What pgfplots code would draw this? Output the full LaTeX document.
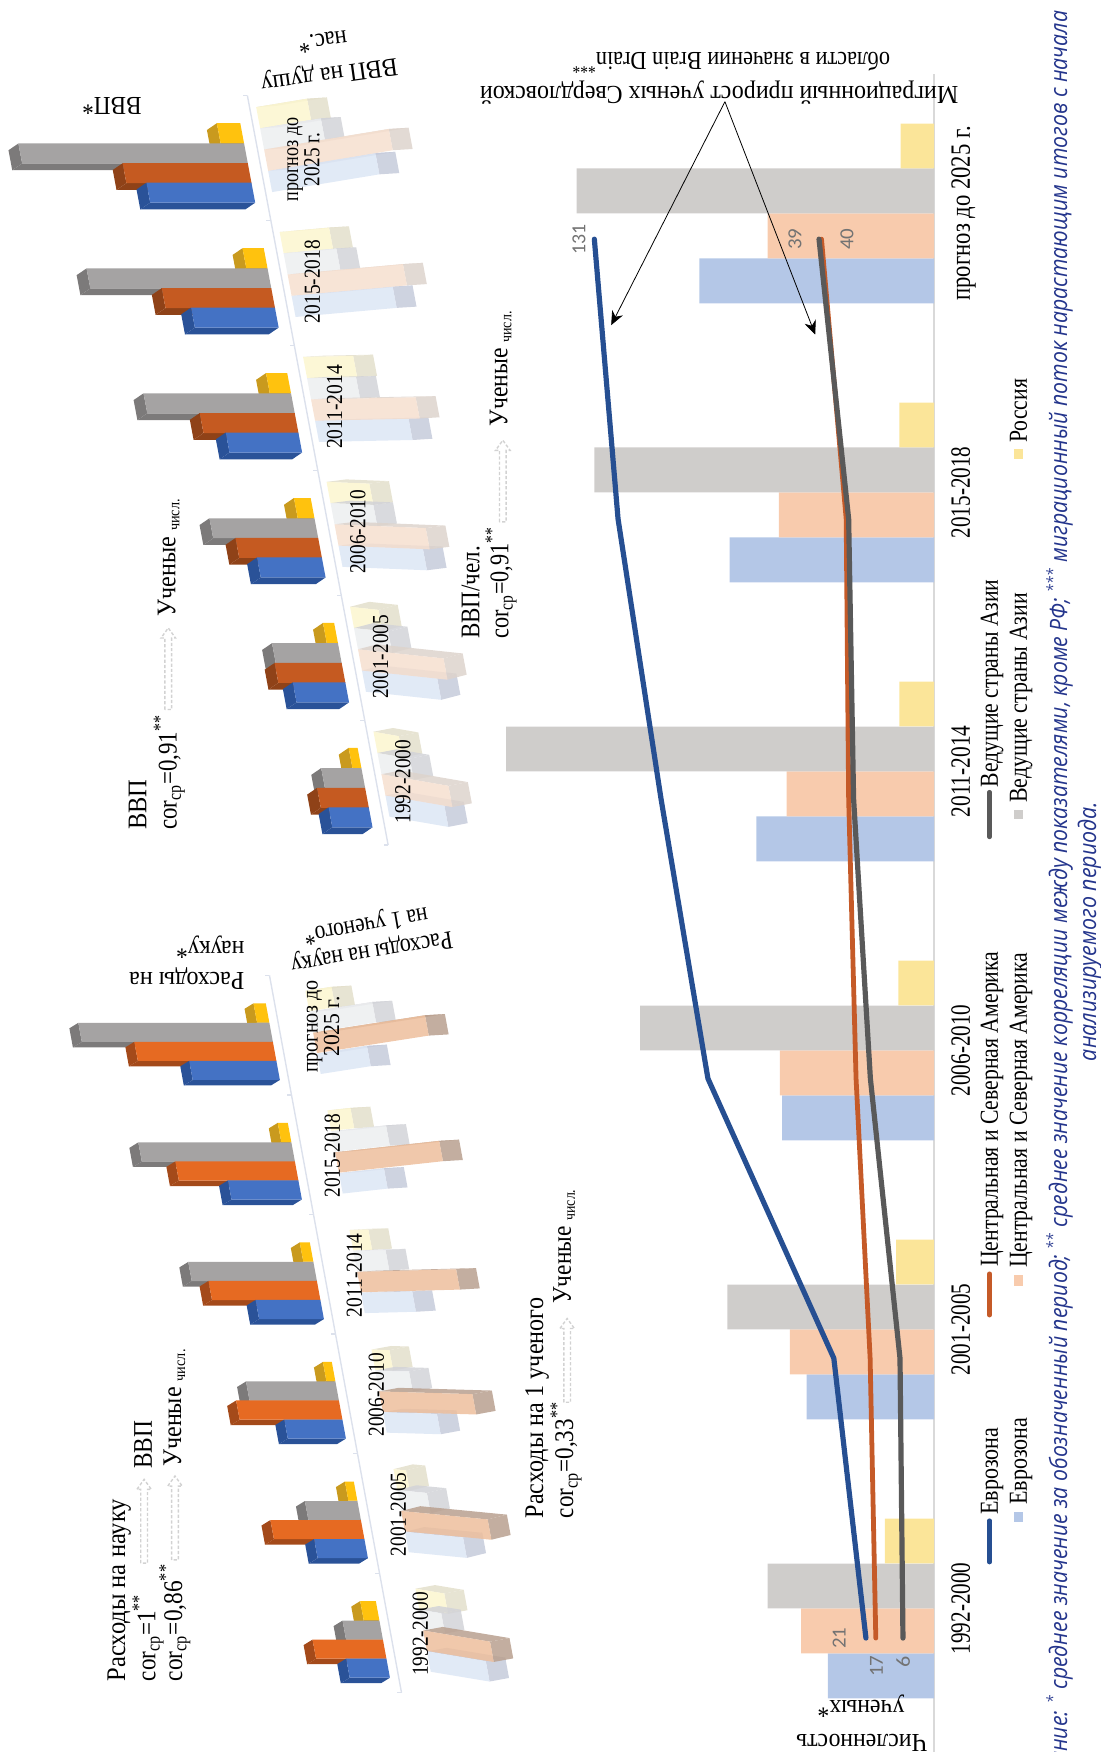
\documentclass[border=0pt]{standalone}
\usepackage{graphicx}
\usepackage{fontspec}
\setmainfont{Liberation Serif}
\newfontfamily\notefont{Open Sans}
\newfontfamily\datafont{Carlito}
\usepackage{pgfplots}
\pgfplotsset{compat=1.18}
\usetikzlibrary{arrows.meta}

% set text to a given run length, keeping its height
\newsavebox\fitbox
\newlength\fitlen
\newcommand\fitw[2]{\sbox\fitbox{#2}\setlength\fitlen{\wd\fitbox}%
  \pgfmathsetmacro\fitr{#1*0.56/\fitlen}\scalebox{\fitr}[1]{\usebox\fitbox}}

% text running upward: x, y, length, text
\newcommand\rt[5][13.5]{\node[rotate=90,anchor=base west,inner sep=0pt,
  font=\fontsize{#1}{#1}\selectfont] at (#2,#3) {\fitw{#4}{#5}};}
% text turned over: angle, x, y, length, text
\newcommand\ut[6][13.5]{\node[rotate=#2,anchor=base west,inner sep=0pt,
  font=\fontsize{#1}{#1}\selectfont] at (#3,#4) {\fitw{#5}{#6}};}

% dashed outline arrow pointing up between two indicators
\newcommand\hollowarrow[3]{\draw[gray!35,line width=0.7pt,dash pattern=on 1.6pt off 1pt]
  (#1-3,#2) -- (#1-3,#3+9) -- (#1-6.5,#3+9) -- (#1,#3) -- (#1+6.5,#3+9)
  -- (#1+3,#3+9) -- (#1+3,#2) -- cycle;}

% one block: centre on the category axis, length, tilt, front colour, side colour
\newcommand\boxbar[5]{%
  \pgfmathsetmacro\cl{#1-\hh}\pgfmathsetmacro\ch{#1+\hh}%
  \pgfmathsetmacro\el{\cl+(#3)*(#2)}\pgfmathsetmacro\eh{\ch+(#3)*(#2)}%
  \pgfmathsetmacro\vv{#2+\dV}%
  \pgfmathsetmacro\fl{\el+\dC}\pgfmathsetmacro\fh{\eh+\dC}%
  \pgfmathsetmacro\gl{\cl+\dC}\pgfmathsetmacro\gh{\ch+\dC}%
  \pgfmathparse{\dC<0?1:0}\ifnum\pgfmathresult=1
    \edef\temp{\noexpand\addplot[fill=#5,draw=none,fill opacity=\bo] coordinates
      {(\cl,0) (\el,#2) (\fl,\vv) (\gl,\dV)} -- cycle;}\temp
  \else
    \edef\temp{\noexpand\addplot[fill=#5,draw=none,fill opacity=\bo] coordinates
      {(\ch,0) (\eh,#2) (\fh,\vv) (\gh,\dV)} -- cycle;}\temp
  \fi
  \edef\temp{\noexpand\addplot[fill=#5,draw=none,fill opacity=\bo] coordinates
    {(\el,#2) (\fl,\vv) (\fh,\vv) (\eh,#2)} -- cycle;}\temp
  \edef\temp{\noexpand\addplot[fill=#4,draw=none,fill opacity=\bo] coordinates
    {(\cl,0) (\el,#2) (\eh,#2) (\ch,0)} -- cycle;}\temp
}
% a period of the left-hand blocks: index, blue, orange, grey, yellow
\newcommand\rowL[5]{%
  \boxbar{#1+\sY}{#5}{0}{cY}{dY}\boxbar{#1+\sG}{#4}{0}{cG}{dG}%
  \boxbar{#1+\sO}{#3}{0}{cO}{dO}\boxbar{#1+\sB}{#2}{0}{cB}{dB}}
% a period of the pale right-hand blocks: index, blue, peach, grey, yellow, tilt, depth
\newcommand\rowR[7]{\def\dC{#7}%
  \boxbar{#1+\sY}{#5}{#6}{pY}{qY}\boxbar{#1+\sG}{#4}{#6}{pG}{qG}%
  \boxbar{#1+\sB}{#2}{#6}{pB}{qB}\boxbar{#1+\sO}{#3}{#6}{pO}{qO}}

\newcommand\baseline[2]{% slanted category axis with its ticks
  \addplot[draw=axisblue,line width=0.7pt] coordinates {(-0.5,#1) (5.5,#1)};
  \addplot[draw=axisblue,line width=0.6pt] coordinates {(0.5,#1) (0.5,#2)};
  \addplot[draw=axisblue,line width=0.6pt] coordinates {(1.5,#1) (1.5,#2)};
  \addplot[draw=axisblue,line width=0.6pt] coordinates {(2.5,#1) (2.5,#2)};
  \addplot[draw=axisblue,line width=0.6pt] coordinates {(3.5,#1) (3.5,#2)};
  \addplot[draw=axisblue,line width=0.6pt] coordinates {(4.5,#1) (4.5,#2)};
  \addplot[draw=axisblue,line width=0.6pt] coordinates {(-0.5,#1) (-0.5,#2)};
  \addplot[draw=axisblue,line width=0.6pt] coordinates {(5.5,#1) (5.5,#2)};
}
% period caption inside a block panel: category position, value position, text
\newcommand\per[3]{\node[rotate=90,inner sep=0pt,font=\fontsize{11.5}{11.5}\selectfont]
  at (axis cs:#1,#2) {\fitw{75}{#3}};}
\newcommand\perf[4]{\node[rotate=90,inner sep=0pt,align=center,font=\fontsize{11.5}{10.7}\selectfont]
  at (axis cs:#1,#2) {\fitw{#3}{прогноз до}\\\fitw{#4}{2025 г.}};}

\definecolor{axisblue}{HTML}{DCE1EC}
\definecolor{cB}{HTML}{4472C4}\definecolor{dB}{HTML}{2A5298}
\definecolor{cG}{HTML}{A5A3A3}\definecolor{dG}{HTML}{7C7A7A}
\definecolor{cY}{HTML}{FFC20E}\definecolor{dY}{HTML}{C99A1E}
\definecolor{pB}{HTML}{DCE6F5}\definecolor{qB}{HTML}{C6CBDB}
\definecolor{pG}{HTML}{ECEEF0}\definecolor{qG}{HTML}{D2D3D8}
\definecolor{pY}{HTML}{FCF6CF}\definecolor{qY}{HTML}{E3DFCB}
\definecolor{barB}{HTML}{B4C7E7}\definecolor{barO}{HTML}{F8CBAD}
\definecolor{barG}{HTML}{CFCDCB}\definecolor{barY}{HTML}{FBE599}
\definecolor{lineB}{HTML}{264F92}\definecolor{lineO}{HTML}{C55A28}
\definecolor{lineG}{HTML}{595959}\definecolor{note}{HTML}{24358C}

\pgfplotsset{panel/.style={hide axis,clip=false,xmin=-1,xmax=6.5,ymin=-25,ymax=260,anchor=origin}}

\begin{document}
\begin{tikzpicture}[x=0.56pt,y=-0.56pt]
\path[use as bounding box] (0,0) rectangle (985,1568);
\clip (0,0) rectangle (985,1568);

% ---------- bars of the lower chart ----------
\begin{axis}[at={(468.16pt,-806.12pt)},anchor=origin,scale only axis,
  width=224pt,height=846pt,x dir=reverse,xmin=0,xmax=400,ymin=-0.55,ymax=5.5,
  xbar,bar width=22.5pt,axis x line=none,axis y line=right,
  axis line style={draw=black!15,line width=1.1pt,-},
  major tick length=0pt,ytick={0,1,2,3,4,5},
  yticklabels={\fitw{82}{1992-2000},\fitw{82}{2001-2005},\fitw{82}{2006-2010},
    \fitw{82}{2011-2014},\fitw{82}{2015-2018},\fitw{156}{прогноз до 2025 г.}},
  yticklabel style={rotate=90,anchor=north,inner sep=0pt,yshift=-8.4pt,font=\fontsize{14}{14}\selectfont}]
\addplot[fill=barB,draw=none,bar shift=-33.8pt] coordinates {(95,0) (114,1) (136,2) (159,3) (183,4) (210,5)};
\addplot[fill=barO,draw=none,bar shift=-11.26pt] coordinates {(119,0) (129,1) (138,2) (132,3) (139,4) (149,5)};
\addplot[fill=barG,draw=none,bar shift=11.26pt] coordinates {(149,0) (185,1) (263,2) (383,3) (304,4) (320,5)};
\addplot[fill=barY,draw=none,bar shift=33.8pt] coordinates {(44,0) (34,1) (32,2) (31,3) (31,4) (30,5)};
\end{axis}

% ---------- lines of the lower chart, on their own scale ----------
\begin{axis}[at={(459.98pt,-820.96pt)},anchor=origin,scale only axis,hide axis,clip=false,
  width=191.8pt,height=785.25pt,x dir=reverse,xmin=-5,xmax=150,ymin=-0.3,ymax=5.3]
\addplot[lineO,line width=2.4pt,line cap=round] coordinates {(17,0) (19.3,1) (25,2) (28,3) (29,4) (39,5)};
\addplot[lineG,line width=2.6pt,line cap=round] coordinates {(6,0) (7.2,1) (19.2,2) (26,3) (28,4) (40,5)};
\addplot[lineB,line width=2.6pt,line cap=round] coordinates {(21,0) (34,1) (85,2) (104,3) (121.4,4) (131,5)};
\begin{scope}[every node/.style={rotate=90,inner sep=0pt,text=black!55,font=\datafont\fontsize{10}{10}\selectfont}]
\node at (axis cs:31.9,0) {\fitw{19}{21}};
\node at (axis cs:16.7,-0.1) {\fitw{19}{17}};
\node at (axis cs:5.9,-0.085) {\fitw{10}{6}};
\node at (axis cs:137.2,5) {\fitw{27}{131}};
\node at (axis cs:49.7,5) {\fitw{19}{39}};
\node at (axis cs:28.7,5) {\fitw{19}{40}};
\end{scope}
\end{axis}

% ---------- block panel: research spending ----------
\begin{axis}[panel,at={(191.3pt,-818.38pt)},x={(-11.03pt,59.92pt)},y={(-0.56pt,0pt)}]
\def\hh{0.08}\def\dC{-0.046}\def\dV{8.9}\def\bo{1}
\def\sB{-0.295}\def\sO{-0.136}\def\sG{0.023}\def\sY{0.186}
\definecolor{cO}{HTML}{E66A22}\definecolor{dO}{HTML}{A44A1A}
\baseline{-7.9}{-4}
\rowL{0}{36}{63}{33}{14}
\rowL{1}{45}{81}{47}{8}
\rowL{2}{52}{92}{80}{8}
\rowL{3}{58}{97}{112}{9}
\rowL{4}{63}{107}{137}{9}
\rowL{5}{78}{124}{171}{11}
\end{axis}

% ---------- block panel: spending per researcher ----------
\begin{axis}[panel,at={(212.07pt,-817.04pt)},x={(-11.03pt,59.92pt)},y={(0.56pt,0pt)}]
\def\hh{0.085}\def\dV{18}\def\bo{0.85}\def\dC{0}
\def\sB{-0.2625}\def\sO{-0.0875}\def\sG{0.0875}\def\sY{0.2625}
\definecolor{pO}{HTML}{EDBE9C}\definecolor{qO}{HTML}{B9A08F}
\rowR{0}{51}{58}{19}{25}{-0.0016}{0.03}
\rowR{1}{51}{76}{26}{11}{-0.00093}{0.04}
\rowR{2}{48}{83}{30}{16}{-0.00028}{0.03}
\rowR{3}{46}{89}{29}{17}{0.00024}{0.01}
\rowR{4}{41}{95}{50}{21}{0.001}{0.01}
\rowR{5}{46}{103}{58}{24}{0.00142}{0.01}
\per{-0.03}{-3}{1992-2000}\per{0.97}{-3}{2001-2005}\per{1.97}{-3}{2006-2010}
\per{2.97}{-3}{2011-2014}\per{3.97}{-3}{2015-2018}
\perf{5.05}{10}{83}{54}
\end{axis}

% ---------- block panel: GDP ----------
\begin{axis}[panel,at={(182.5pt,-392.22pt)},x={(-11.76pt,62.61pt)},y={(-0.56pt,0pt)}]
\def\hh{0.08}\def\dC{-0.054}\def\dV{10}\def\bo{1}
\def\sB{-0.278}\def\sO{-0.122}\def\sG{0.036}\def\sY{0.198}
\definecolor{cO}{HTML}{C55A21}\definecolor{dO}{HTML}{8F4218}
\baseline{-11}{-7}
\rowL{0}{36}{43}{36}{8}
\rowL{1}{47}{60}{59}{10}
\rowL{2}{58}{74}{94}{15}
\rowL{3}{65}{85}{132}{19}
\rowL{4}{75}{98}{162}{19}
\rowL{5}{94}{112}{202}{21}
\end{axis}

% ---------- block panel: GDP per capita ----------
\begin{axis}[panel,at={(191.18pt,-388.02pt)},x={(-11.76pt,62.61pt)},y={(0.56pt,0pt)}]
\def\hh{0.085}\def\dV{18}\def\bo{0.85}\def\dC{0}
\def\sB{-0.255}\def\sO{-0.085}\def\sG{0.085}\def\sY{0.255}
\definecolor{pO}{HTML}{F6DFCF}\definecolor{qO}{HTML}{DDD3CC}
\rowR{0}{51}{58}{28}{22}{-0.0016}{0.03}
\rowR{1}{66}{75}{30}{25}{-0.00098}{0.04}
\rowR{2}{75}{81}{38}{38}{-0.00036}{0.02}
\rowR{3}{84}{94}{44}{45}{0.00018}{0.01}
\rowR{4}{92}{105}{48}{45}{0.0008}{0.01}
\rowR{5}{99}{115}{56}{47}{0.00143}{0.01}
\per{-0.06}{18}{1992-2000}\per{0.94}{19}{2001-2005}\per{1.94}{19.7}{2006-2010}
\per{2.94}{19.8}{2011-2014}\per{3.94}{21}{2015-2018}
\perf{4.92}{33.5}{75}{48}
\end{axis}

% ---------- captions of the block panels ----------
\rt{112}{1505}{163}{Расходы на науку}
\rt{139}{1505}{78}{cor\textsubscript{ср}=1\textsuperscript{**}}
\hollowarrow{129}{1399}{1324}
\rt{136}{1315}{43}{ВВП}
\rt{163}{1505}{105}{cor\textsubscript{ср}=0,86\textsuperscript{**}}
\hollowarrow{156.6}{1396}{1321}
\rt{162}{1313}{105}{Ученые {\raisebox{-2pt}{\fontsize{8}{8}\selectfont числ.}}}
\rt{486}{1359}{197}{Расходы на 1 ученого}
\rt{513}{1359}{104}{cor\textsubscript{ср}=0,33\textsuperscript{**}}
\hollowarrow{507.6}{1255}{1180}
\rt{511}{1167}{102}{Ученые {\raisebox{-2pt}{\fontsize{8}{8}\selectfont числ.}}}
\rt{131}{743}{45}{ВВП}
\rt{158}{743}{103}{cor\textsubscript{ср}=0,91\textsuperscript{**}}
\hollowarrow{150.6}{635}{562}
\rt{157}{552}{105}{Ученые {\raisebox{-2pt}{\fontsize{8}{8}\selectfont числ.}}}
\rt{429}{572}{83}{ВВП/чел.}
\rt{455}{572}{100}{cor\textsubscript{ср}=0,91\textsuperscript{**}}
\hollowarrow{450}{467}{394}
\rt{454}{382}{103}{Ученые {\raisebox{-2pt}{\fontsize{8}{8}\selectfont числ.}}}

\ut[13]{180}{219}{870}{103}{Расходы на}
\ut[13]{180}{219}{843}{61}{науку*}
\ut[13]{189.4}{404}{834}{146}{Расходы на науку}
\ut[13]{190}{382}{812}{112}{на 1 ученого*}
\ut[13]{180}{127}{87}{53}{ВВП*}
\ut[13]{188}{355}{52}{123}{ВВП на душу}
\ut[13]{188}{310}{27}{44}{нас.*}

\ut[13]{180}{830}{1552}{117}{Численность}
\ut[13]{180}{810}{1522}{78}{ученых*}
\ut[13]{180}{858}{77}{428}{Миграционный прирост ученых Свердловской}
\ut[13]{180}{797}{47}{285}{области в значении Brain Drain\textsuperscript{***}}

% pointers to the two curves
\draw[-{Stealth[length=7pt,width=6pt]},line width=0.4pt] (648.8,91) -- (547,291);
\draw[-{Stealth[length=7pt,width=6pt]},line width=0.4pt] (648.8,91) -- (729.6,299.5);

% ---------- legend ----------
\draw[lineB,line width=2.3pt,line cap=round] (885.6,1398) -- (885.6,1361);
\draw[lineO,line width=2.3pt,line cap=round] (885.6,1177) -- (885.6,1140);
\draw[lineG,line width=2.3pt,line cap=round] (885.6,749) -- (885.6,709);
\rt[13]{893}{1356}{78}{Еврозона}
\rt[13]{893}{1134}{282}{Центральная и Северная Америка}
\rt[13]{893}{705}{186}{Ведущие страны Азии}
\fill[barB] (907.6,1353.6) rectangle (915.4,1362);
\fill[barO] (907.6,1141) rectangle (915.4,1151);
\fill[barG] (907.6,724.6) rectangle (915.4,733);
\fill[barY] (907.6,402) rectangle (915.4,411);
\rt[13]{919}{1347}{78}{Еврозона}
\rt[13]{919}{1135}{282}{Центральная и Северная Америка}
\rt[13]{919}{719}{188}{Ведущие страны Азии}
\rt[13]{919}{396.5}{57}{Россия}

% ---------- footnote ----------
\node[rotate=90,anchor=base west,inner sep=0pt,text=note,font=\notefont\itshape\fontsize{12}{12}\selectfont] at (955,1647)
  {\fitw{1637}{Примечание: \textsuperscript{*} среднее значение за обозначенный период; \textsuperscript{**} среднее значение корреляции между показателями, кроме РФ; \textsuperscript{***} миграционный поток нарастающим итогов с начала}};
\node[rotate=90,anchor=base west,inner sep=0pt,text=note,font=\notefont\itshape\fontsize{12}{12}\selectfont] at (981,950)
  {\fitw{232}{анализируемого периода.}};
\end{tikzpicture}
\end{document}
